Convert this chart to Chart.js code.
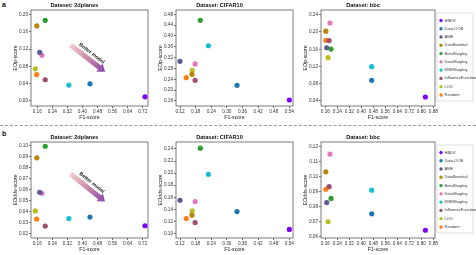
<!DOCTYPE html>
<html lang="en">
<head>
  <meta charset="UTF-8">
  <title>Fairness vs F1</title>
  <script src="https://cdn.jsdelivr.net/npm/chart.js"></script>
  <style>
    body {
      margin: 0;
      background: #ffffff;
      width: 476px;
      height: 255px;
      position: relative;
      overflow: hidden;
      font-family: 'Liberation Sans', Arial, sans-serif;
    }
    .box {
      position: absolute;
    }
    .tag {
      position: absolute;
      left: 2px;
      font-weight: bold;
      font-size: 7px;
      color: #111;
    }
    .sep {
      position: absolute;
      left: 0;
      width: 476px;
      top: 125px;
      border-top: 0.8px dashed #999;
    }
  </style>
</head>
<body>
  <div class="tag" style="top:1px">a</div>
  <div class="sep"></div>
  <div class="tag" style="top:130px">b</div>

  <script>
    const methods = ['HBDV', 'Data-OOB', 'AME', 'DataBanzhaf', 'BetaShapley', 'DataShapley',
                     'KNNShapley', 'InfluenceFunction', 'LOO', 'Random'];
    const colors = ['#8000ff', '#1f77b4', '#5c5c94', '#b8860b', '#2ca02c', '#e377c2',
                    '#17becf', '#9e4d6e', '#bcbd22', '#ff7f0e'];
    const datasets = ['2dplanes', 'CIFAR10', 'bbc'];

    // F1-score (x) per dataset, same order as methods
    const f1_2dplanes = [0.732, 0.440, 0.173, 0.158, 0.2025, 0.185, 0.328, 0.2025, 0.150, 0.157];
    const f1_cifar10  = [0.540, 0.339, 0.120, 0.166, 0.198, 0.178, 0.229, 0.178, 0.167, 0.144];
    const f1_bbc      = [0.827, 0.469, 0.169, 0.163, 0.198, 0.191, 0.469, 0.185, 0.178, 0.163];

    // EOp-score (row a)
    const eop_2dplanes = [0.0093, 0.0395, 0.1126, 0.174, 0.187, 0.1056, 0.0365, 0.049, 0.0744, 0.061];
    const eop_cifar10  = [0.1637, 0.218, 0.3066, 0.2586, 0.458, 0.2967, 0.364, 0.2365, 0.273, 0.246];
    const eop_bbc      = [0.0493, 0.088, 0.1635, 0.202, 0.1605, 0.2208, 0.1195, 0.180, 0.1404, 0.1807];

    // EOdds-score (row b)
    const eodds_2dplanes = [0.027, 0.0349, 0.0576, 0.0891, 0.0997, 0.0567, 0.0336, 0.0267, 0.0406, 0.0331];
    const eodds_cifar10  = [0.1066, 0.1362, 0.155, 0.1303, 0.2412, 0.1527, 0.1979, 0.118, 0.1374, 0.1247];
    const eodds_bbc      = [0.0642, 0.0752, 0.0827, 0.1033, 0.0855, 0.1152, 0.091, 0.0934, 0.0699, 0.0916];

    // axis ranges [min, max, step]
    const xRanges = [[0.127, 0.748, 0.08], [0.1046, 0.554, 0.06], [0.131, 0.891, 0.08]];
    const yRangesA = [[-0.012, 0.211, 0.04], [0.1415, 0.496, 0.04], [0.0284, 0.251, 0.04]];
    const yRangesB = [[0.0158, 0.1036, 0.01], [0.0924, 0.2515, 0.02], [0.059, 0.1233, 0.01]];

    // "Better model" arrow, data coords [x1, y1, x2, y2]
    const arrowA = [0.337, 0.1295, 0.52, 0.0674];
    const arrowB = [0.337, 0.0743, 0.52, 0.0491];

    const FONT = "'Liberation Sans', Arial, sans-serif";
    const plotCols = [[31, 148], [176, 293], [321, 435]];
    const plotRows = [[10, 106], [142, 238]];

    const framePlugin = {
      id: 'frame',
      afterDraw(chart) {
        const a = chart.chartArea, ctx = chart.ctx;
        ctx.save();
        ctx.strokeStyle = '#6e6e6e';
        ctx.lineWidth = 0.9;
        ctx.strokeRect(a.left, a.top, a.right - a.left, a.bottom - a.top);
        ctx.restore();
      }
    };

    const sideLegend = {
      id: 'sideLegend',
      afterDraw(chart, args, opts) {
        if (!opts.show) return;
        const a = chart.chartArea, ctx = chart.ctx;
        ctx.save();
        ctx.strokeStyle = '#d4d4d4';
        ctx.lineWidth = 0.7;
        ctx.strokeRect(a.right + 2, a.top + 3, 36, a.bottom - a.top - 8);
        ctx.font = '4px ' + FONT;
        ctx.textBaseline = 'middle';
        chart.data.datasets.forEach((ds, i) => {
          const y = a.top + 10.5 + i * 8.27;
          ctx.fillStyle = ds.backgroundColor;
          ctx.beginPath();
          ctx.arc(a.right + 6, y, 1.7, 0, Math.PI * 2);
          ctx.fill();
          ctx.fillStyle = '#333';
          ctx.fillText(ds.label, a.right + 9.5, y);
        });
        ctx.restore();
      }
    };

    const arrowPlugin = {
      id: 'betterArrow',
      afterDatasetsDraw(chart, args, opts) {
        if (!opts.coords) return;
        const xs = chart.scales.x, ys = chart.scales.y, ctx = chart.ctx;
        const c = opts.coords;
        const x1 = xs.getPixelForValue(c[0]), y1 = ys.getPixelForValue(c[1]);
        const x2 = xs.getPixelForValue(c[2]), y2 = ys.getPixelForValue(c[3]);
        const len = Math.hypot(x2 - x1, y2 - y1);
        const ang = Math.atan2(y2 - y1, x2 - x1);
        const grad = ctx.createLinearGradient(x1, y1, x2, y2);
        grad.addColorStop(0, '#f4cccc');
        grad.addColorStop(0.5, '#c98aa6');
        grad.addColorStop(1, '#8b45b0');
        ctx.save();
        ctx.translate(x1, y1);
        ctx.rotate(ang);
        const head = 7, sw = 2.5, hw = 5.2;
        ctx.beginPath();
        ctx.moveTo(0, -sw);
        ctx.lineTo(len - head, -sw);
        ctx.lineTo(len - head, -hw);
        ctx.lineTo(len, 0);
        ctx.lineTo(len - head, hw);
        ctx.lineTo(len - head, sw);
        ctx.lineTo(0, sw);
        ctx.closePath();
        ctx.restore();
        ctx.save();
        ctx.fillStyle = grad;
        ctx.fill();
        ctx.restore();
        // label
        ctx.save();
        ctx.translate((x1 + x2) / 2, (y1 + y2) / 2);
        ctx.rotate(ang);
        ctx.font = 'bold 5px ' + FONT;
        ctx.fillStyle = '#222';
        ctx.textAlign = 'center';
        ctx.textBaseline = 'middle';
        ctx.fillText('Better model', 0, -6.5);
        ctx.restore();
      }
    };

    function makeChart(row, col, xs, ys, yr, xr, yTitle, arrow) {
      const [L, R] = plotCols[col];
      const [T, B] = plotRows[row];
      const padL = col === 2 ? 11 : 0;
      const padR = col === 2 ? 41 : 30;
      const div = document.createElement('div');
      div.className = 'box';
      div.style.left = (L - 30 - padL) + 'px';
      div.style.top = (T - 10) + 'px';
      div.style.width = (padL + 30 + (R - L) + padR) + 'px';
      div.style.height = (10 + (B - T) + 16) + 'px';
      const cv = document.createElement('canvas');
      div.appendChild(cv);
      document.body.appendChild(div);

      new Chart(cv, {
        type: 'scatter',
        data: {
          datasets: methods.map((m, i) => ({
            label: m,
            data: [{ x: xs[i], y: ys[i] }],
            backgroundColor: colors[i],
            borderColor: colors[i],
            pointRadius: 2.6,
            borderWidth: 0
          }))
        },
        options: {
          responsive: true,
          maintainAspectRatio: false,
          animation: false,
          layout: { padding: { left: padL, right: padR, top: 0, bottom: 0 } },
          plugins: {
            legend: { display: false },
            tooltip: { enabled: false },
            title: {
              display: true,
              text: 'Dataset: ' + datasets[col],
              color: '#111',
              font: { family: FONT, size: 5.6, weight: 'bold' },
              padding: { top: 1.6, bottom: 1.68 }
            },
            sideLegend: { show: col === 2 },
            betterArrow: { coords: arrow || null }
          },
          scales: {
            x: {
              type: 'linear',
              min: xr[0], max: xr[1],
              border: { display: false },
              grid: { drawOnChartArea: false, drawTicks: true, tickLength: 2, color: '#6e6e6e' },
              ticks: {
                stepSize: xr[2], includeBounds: false, autoSkip: false,
                maxRotation: 0, minRotation: 0, padding: 0.5,
                color: '#333', font: { family: FONT, size: 4.7 },
                callback: v => v.toFixed(2)
              },
              title: {
                display: true, text: 'F1-score', color: '#222',
                font: { family: FONT, size: 5.2 }, padding: { top: 0, bottom: 1 }
              },
              afterFit: s => { s.height = 16; s.paddingLeft = 0; s.paddingRight = 0; }
            },
            y: {
              type: 'linear',
              min: yr[0], max: yr[1],
              border: { display: false },
              grid: { drawOnChartArea: false, drawTicks: true, tickLength: 2, color: '#6e6e6e' },
              ticks: {
                stepSize: yr[2], includeBounds: false, autoSkip: false,
                padding: 1, color: '#333', font: { family: FONT, size: 4.7 },
                callback: v => v.toFixed(2)
              },
              title: {
                display: true, text: yTitle, color: '#222',
                font: { family: FONT, size: 5.3 }, padding: { top: 11.3, bottom: 0 }
              },
              afterFit: s => { s.width = 30; s.paddingTop = 0; s.paddingBottom = 0; }
            }
          }
        },
        plugins: [framePlugin, sideLegend, arrowPlugin]
      });
    }

    makeChart(0, 0, f1_2dplanes, eop_2dplanes, yRangesA[0], xRanges[0], 'EOp-score', arrowA);
    makeChart(0, 1, f1_cifar10, eop_cifar10, yRangesA[1], xRanges[1], 'EOp-score');
    makeChart(0, 2, f1_bbc, eop_bbc, yRangesA[2], xRanges[2], 'EOp-score');
    makeChart(1, 0, f1_2dplanes, eodds_2dplanes, yRangesB[0], xRanges[0], 'EOdds-score', arrowB);
    makeChart(1, 1, f1_cifar10, eodds_cifar10, yRangesB[1], xRanges[1], 'EOdds-score');
    makeChart(1, 2, f1_bbc, eodds_bbc, yRangesB[2], xRanges[2], 'EOdds-score');
  </script>
</body>
</html>
